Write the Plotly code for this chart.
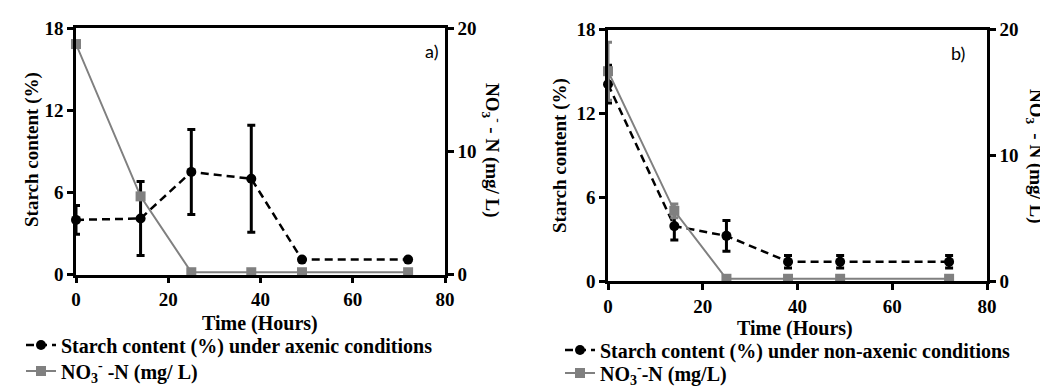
import plotly.graph_objects as go

# ---------------- data ----------------
time_a = [0, 14, 25, 38, 49, 72]
starch_a = [4.0, 4.1, 7.5, 7.0, 1.1, 1.1]
starch_a_err = [1.05, 2.7, 3.1, 3.9, 0, 0]
no3_a = [18.7, 6.35, 0.2, 0.2, 0.2, 0.2]
no3_a_err = [0, 0, 0, 0, 0, 0]

time_b = [0, 14, 25, 38, 49, 72]
starch_b = [14.1, 3.95, 3.25, 1.4, 1.4, 1.4]
starch_b_err = [1.35, 1.0, 1.1, 0.45, 0.45, 0.45]
no3_b = [16.7, 5.6, 0.2, 0.2, 0.2, 0.2]
no3_b_err = [2.3, 0.55, 0, 0, 0, 0]

starch_ticks = [0, 6, 12, 18]
no3_ticks = [0, 10, 20]
time_ticks = [0, 20, 40, 60, 80]

W, H = 1048, 388
SERIF = "Liberation Serif"
GRAY = "#808080"


def px(x):
    return x / W


def py(y):
    return 1 - y / H


fig = go.Figure()

starch_style = dict(
    mode="lines+markers",
    line=dict(color="black", width=2.5, dash="8px,5px"),
    marker=dict(symbol="circle", size=10, color="black"),
    cliponaxis=False,
)
no3_style = dict(
    mode="lines+markers",
    line=dict(color=GRAY, width=2),
    marker=dict(symbol="square", size=10, color=GRAY),
    cliponaxis=False,
)

# ----- panel a -----
fig.add_trace(go.Scatter(
    x=time_a, y=no3_a, xaxis="x", yaxis="y2",
    name="NO<sub>3</sub><sup>-</sup> -N (mg/ L)", legend="legend2",
    error_y=dict(type="data", array=no3_a_err, color=GRAY, thickness=3, width=4),
    **no3_style))
fig.add_trace(go.Scatter(
    x=time_a, y=starch_a, xaxis="x", yaxis="y",
    name="Starch content (%) under axenic conditions", legend="legend",
    error_y=dict(type="data", array=starch_a_err, color="black", thickness=3, width=4),
    **starch_style))

# ----- panel b -----
fig.add_trace(go.Scatter(
    x=time_b, y=starch_b, xaxis="x2", yaxis="y3",
    name="Starch content (%) under non-axenic conditions", legend="legend3",
    error_y=dict(type="data", array=starch_b_err, color="black", thickness=3, width=4),
    **starch_style))
fig.add_trace(go.Scatter(
    x=time_b, y=no3_b, xaxis="x2", yaxis="y4",
    name="NO<sub>3</sub><sup>-</sup>-N (mg/L)", legend="legend4",
    error_y=dict(type="data", array=no3_b_err, color=GRAY, thickness=3, width=4),
    **no3_style))

tickfont = dict(family=SERIF, size=19, color="black", weight="bold")
axis_common = dict(showline=True, linecolor="black", linewidth=2.5, ticks="outside",
                   ticklen=6, tickwidth=2.5, tickcolor="black", showgrid=False,
                   zeroline=False, tickfont=tickfont)

legend_font = dict(family=SERIF, size=20, color="black", weight="bold")


def leg(xp, yp):
    return dict(x=px(xp), y=py(yp - 8), xanchor="left", yanchor="middle",
                font=legend_font, bgcolor="rgba(0,0,0,0)", borderwidth=0)


fig.update_layout(
    width=W, height=H,
    showlegend=True,
    margin=dict(l=0, r=0, t=0, b=0, autoexpand=False),
    paper_bgcolor="white", plot_bgcolor="white",
    font=dict(family=SERIF, color="black"),
    xaxis=dict(domain=[px(68), px(437)], range=[0, 80], tickvals=time_ticks,
               anchor="y", mirror=True, **axis_common),
    yaxis=dict(domain=[py(266.7), py(20)], range=[0, 18], tickvals=starch_ticks,
               anchor="x", **axis_common),
    yaxis2=dict(range=[0, 20], tickvals=no3_ticks, overlaying="y", side="right",
                anchor="x", **axis_common),
    xaxis2=dict(domain=[px(600), px(979)], range=[0, 80], tickvals=time_ticks,
                anchor="y3", mirror=True, **axis_common),
    yaxis3=dict(domain=[py(273.3), py(21.7)], range=[0, 18], tickvals=starch_ticks,
                anchor="x2", **axis_common),
    yaxis4=dict(range=[0, 20], tickvals=no3_ticks, overlaying="y3", side="right",
                anchor="x2", **axis_common),
    legend=leg(13, 345),
    legend2=leg(13, 371),
    legend3=leg(552, 350),
    legend4=leg(552, 373),
)

title_font = dict(family=SERIF, size=19, color="black", weight="bold")
ann = [
    dict(text="Starch content (%)", x=px(24), y=py(142), textangle=-90),
    dict(text="Time (Hours)", x=px(252), y=py(315), font=dict(family=SERIF, size=20, color="black", weight="bold")),
    dict(text="NO<sub>3</sub><sup>-</sup> - N (mg/ L)", x=px(485), y=py(142), textangle=90),
    dict(text="Starch content (%)", x=px(552), y=py(148), textangle=-90),
    dict(text="Time (Hours)", x=px(787), y=py(320), font=dict(family=SERIF, size=20, color="black", weight="bold")),
    dict(text="NO<sub>3</sub><sup>-</sup> - N (mg/ L)", x=px(1029), y=py(148), textangle=90),
    dict(text="a)", x=px(423), y=py(43),
         font=dict(family="Lato", size=18, color="black")),
    dict(text="b)", x=px(950), y=py(45),
         font=dict(family="Lato", size=18, color="black")),
]
for a in ann:
    a.setdefault("font", title_font)
    fig.add_annotation(xref="paper", yref="paper", showarrow=False,
                       xanchor="center", yanchor="middle", **a)

fig.write_html("out.html")
